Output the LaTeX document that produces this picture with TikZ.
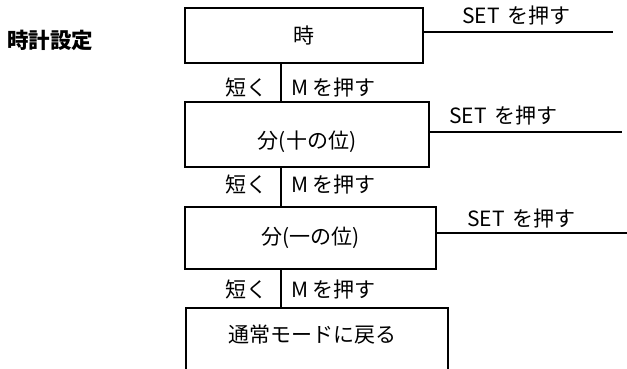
\documentclass[tikz,border=0pt]{standalone}
\usepackage{fontspec}
\setmainfont{Noto Sans CJK JP}
\usetikzlibrary{calc}
\tikzset{
  boxnode/.style={draw=black, line width=1.6pt, minimum width=#1, inner sep=0pt},
  txt/.style={font=\fontsize{21}{24}\selectfont, inner sep=0pt},
  conn/.style={draw=black, line width=1.6pt}
}
\begin{document}
\begin{tikzpicture}[x=1pt,y=-1pt]
\useasboundingbox (0,0) rectangle (627,369);
% title
\node[font=\bfseries\fontsize{21.5}{24}\selectfont, anchor=west, inner sep=0pt] (title) at (7,40) {時計設定};
% boxes
\node[boxnode=238pt, minimum height=55pt] (b1) at (304,35.5) {};
\node[txt] (t1) at (b1.center) {時};
\node[boxnode=244pt, minimum height=65pt] (b2) at (307,134.5) {};
\node[txt] (t2) at ([yshift=-7pt]b2.center) {分(十の位)};
\node[boxnode=251pt, minimum height=62pt] (b3) at (310.5,238) {};
\node[txt] (t3) at (b3.center) {分(一の位)};
\coordinate (b4nw) at (186,308);
\coordinate (b4ne) at (448,308);
\coordinate (b4sw) at (186,380);
\coordinate (b4se) at (448,380);
\draw[conn] (b4sw) -- (b4nw) -- (b4ne) -- (b4se);
\node[txt] (t4) at (312,335) {通常モードに戻る};
% vertical connectors
\coordinate (v1) at ([xshift=97pt]b1.south west);
\coordinate (v2) at ([xshift=97pt]b2.south west);
\coordinate (v3) at ([xshift=97pt]b3.south west);
\draw[conn] (v1) -- (v1 |- b2.north);
\draw[conn] (v2) -- (v2 |- b3.north);
\draw[conn] (v3) -- (v3 |- b4nw);
\node[txt, anchor=east] (s1) at (268,88) {短く};
\node[txt, anchor=west] (m1) at (291,88) {M を押す};
\node[txt, anchor=east] (s2) at (268,185) {短く};
\node[txt, anchor=west] (m2) at (291,185) {M を押す};
\node[txt, anchor=east] (s3) at (268,290) {短く};
\node[txt, anchor=west] (m3) at (291,290) {M を押す};
% SET lines
\coordinate (e1) at (613,32);
\coordinate (e2) at (622,132);
\coordinate (e3) at (627,233);
\draw[conn] (b1.east |- e1) -- (e1);
\draw[conn] (b2.east |- e2) -- (e2);
\draw[conn] (b3.east |- e3) -- (e3);
\node[txt, anchor=west] (set1) at (462,16) {SET\hspace{0.15em} を押す};
\node[txt, anchor=west] (set2) at (449,116) {SET\hspace{0.15em} を押す};
\node[txt, anchor=west] (set3) at (467,219) {SET\hspace{0.15em} を押す};
\end{tikzpicture}
\end{document}
